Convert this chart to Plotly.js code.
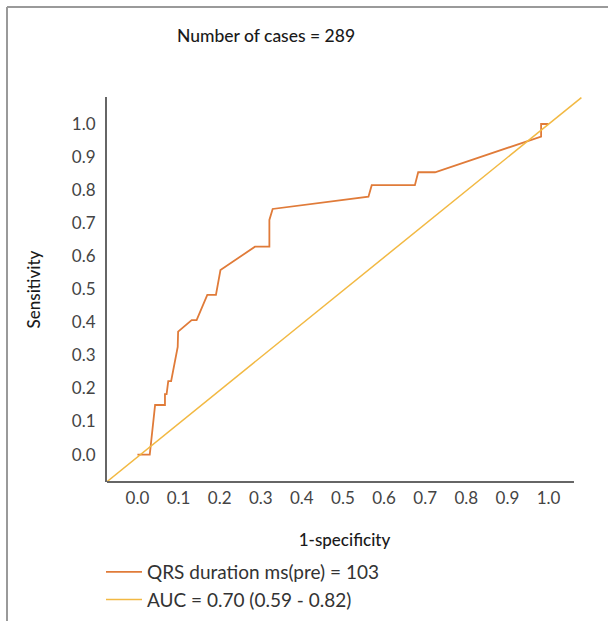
<!DOCTYPE html>
<html>
<head>
<meta charset="utf-8">
<script src="https://cdn.plot.ly/plotly-3.0.1.min.js"></script>
<style>
  html, body { margin: 0; padding: 0; background: #ffffff; }
  #chart { width: 608px; height: 621px; }
</style>
</head>
<body>
<div id="chart"></div>
<script>
// ROC curve: 1-specificity (false positive rate) vs sensitivity
const fpr = [0.0, 0.030, 0.043, 0.067, 0.067, 0.071, 0.075, 0.082, 0.098, 0.099, 0.132, 0.144, 0.170, 0.191, 0.202, 0.286, 0.321, 0.321, 0.329, 0.562, 0.570, 0.675, 0.683, 0.724, 0.982, 0.982, 1.0];
const tpr = [0.0, 0.0, 0.150, 0.150, 0.183, 0.183, 0.222, 0.222, 0.326, 0.372, 0.407, 0.407, 0.483, 0.483, 0.558, 0.629, 0.629, 0.710, 0.743, 0.780, 0.815, 0.815, 0.854, 0.854, 0.962, 1.0, 1.0];
// reference (chance) line
const refX = [-0.075, 1.08];
const refY = [-0.083, 1.08];
// ticks
const tickVals = [0, 0.1, 0.2, 0.3, 0.4, 0.5, 0.6, 0.7, 0.8, 0.9, 1.0];
const tickText = ["0.0", "0.1", "0.2", "0.3", "0.4", "0.5", "0.6", "0.7", "0.8", "0.9", "1.0"];
const seriesNames = ["QRS duration ms(pre) = 103", "AUC = 0.70 (0.59 - 0.82)"];
const chartTitle = "Number of cases = 289";
const xTitle = "1-specificity";
const yTitle = "Sensitivity";

const FONT = "Lato, 'Open Sans', sans-serif";
const ORANGE = "#E07B39";
const YELLOW = "#F2B943";

const traces = [
  {
    x: fpr, y: tpr, type: "scatter", mode: "lines", name: seriesNames[0],
    line: { color: ORANGE, width: 1.8 }
  },
  {
    x: refX, y: refY, type: "scatter", mode: "lines", name: seriesNames[1],
    line: { color: YELLOW, width: 1.5 }
  }
];

const layout = {
  width: 608, height: 621,
  margin: { l: 107, r: 26, t: 97, b: 139, autoexpand: false },
  paper_bgcolor: "#ffffff", plot_bgcolor: "#ffffff",
  font: { family: FONT, color: "#333333", size: 17 },
  title: {
    text: chartTitle,
    font: { family: FONT, size: 17.5, color: "#1a1a1a", weight: 500 },
    x: 266 / 608, xref: "container", xanchor: "center",
    y: 1 - 36 / 621, yref: "container", yanchor: "middle"
  },
  xaxis: {
    range: [-0.074, 1.0815], tickvals: tickVals, ticktext: tickText,
    showgrid: false, zeroline: false, showline: false, ticks: "",
    tickfont: { family: FONT, size: 17, color: "#444444" },
    ticklabelstandoff: 4,
    title: { text: xTitle, font: { family: FONT, size: 17, color: "#1a1a1a", weight: 500 }, standoff: 27 },
    automargin: false, fixedrange: true
  },
  yaxis: {
    range: [-0.083, 1.0817], tickvals: tickVals, ticktext: tickText,
    showgrid: false, zeroline: false, showline: true, linecolor: "#666666", linewidth: 2,
    ticks: "", tickfont: { family: FONT, size: 17, color: "#444444" },
    ticklabelstandoff: 6,
    title: { text: yTitle, font: { family: FONT, size: 17, color: "#1a1a1a", weight: 500 }, standoff: 27 },
    automargin: false, fixedrange: true
  },
  showlegend: true,
  legend: {
    x: (101 - 107) / 475, xanchor: "left",
    y: (482 - 553) / 385, yanchor: "top",
    itemwidth: 36,
    font: { family: FONT, size: 19, color: "#333333" },
    bgcolor: "rgba(0,0,0,0)", tracegroupgap: 0
  },
  shapes: [
    // bottom axis line, stopping short of the right edge
    { type: "line", xref: "x", yref: "paper", x0: -0.074, x1: 1.062, y0: 0, y1: 0,
      line: { color: "#666666", width: 2 } },
    // outer frame (top and left edges)
    { type: "line", xref: "paper", yref: "paper",
      x0: (7 - 107) / 475, x1: (640 - 107) / 475, y0: (482 - 7) / 385, y1: (482 - 7) / 385,
      line: { color: "#9a9a9a", width: 2 } },
    { type: "line", xref: "paper", yref: "paper",
      x0: (7 - 107) / 475, x1: (7 - 107) / 475, y0: (482 - 7) / 385, y1: (482 - 660) / 385,
      line: { color: "#9a9a9a", width: 2 } }
  ]
};

Plotly.newPlot("chart", traces, layout, { displayModeBar: false, staticPlot: true });
</script>
</body>
</html>
